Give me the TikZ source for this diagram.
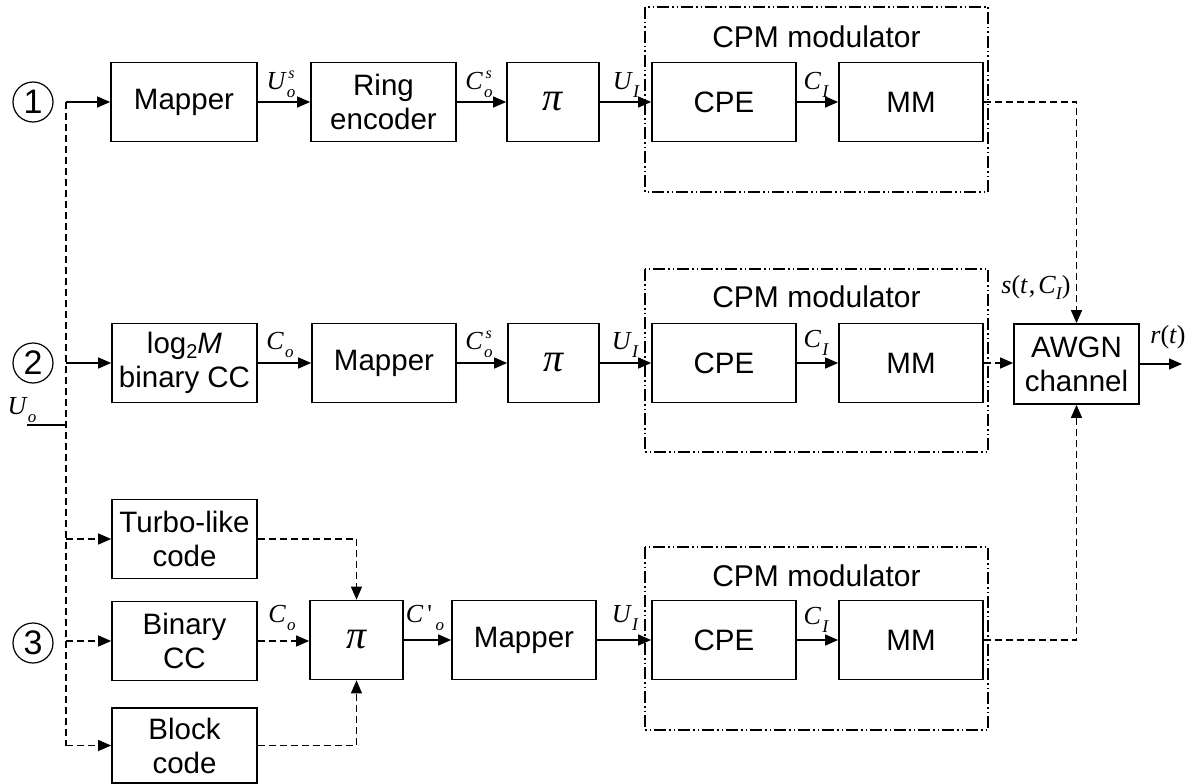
\documentclass[tikz,border=0pt]{standalone}
\usepackage{fontspec}
\setmainfont{Liberation Sans}
\newfontfamily\tnr{Liberation Serif}
\usetikzlibrary{arrows.meta}
\newcommand{\lbl}[3]{\mbox{\fontsize{26}{26}\selectfont\tnr\itshape #1\kern1.5pt\rlap{\raisebox{11pt}{\kern1.5pt\fontsize{16}{16}\selectfont #3}}\raisebox{-8pt}{\fontsize{17}{17}\selectfont #2}}}
\newcommand{\pisym}{{\fontsize{40}{40}\selectfont\tnr\itshape π}}
\tikzset{
  blk/.style={draw, line width=1.7pt, minimum height=79pt, inner sep=0pt, align=center,
    font=\fontsize{29.5}{34}\selectfont},
  cpmbox/.style={draw, line width=1.4pt, dash pattern=on 12pt off 3pt on 1.5pt off 3pt on 1.5pt off 3pt},
  arr/.style={line width=1.4pt, -{Triangle[length=13pt,width=11pt]}},
  darr/.style={arr, dash pattern=on 7pt off 4pt},
  dln/.style={line width=1.4pt, dash pattern=on 7pt off 4pt},
  num/.style={draw, circle, line width=1.2pt, minimum size=40pt, inner sep=0pt,
    font=\fontsize{34}{34}\selectfont},
  ttl/.style={font=\fontsize{30}{34}\selectfont},
}
\begin{document}
\begin{tikzpicture}[x=1pt,y=-1pt]
\useasboundingbox (0,0) rectangle (1197,784);
% CPM boxes
\draw[cpmbox] (645,7) rectangle (988,192);
\draw[cpmbox] (645,269) rectangle (988,452);
\draw[cpmbox] (645,547) rectangle (988,730);
\node[ttl] (t1) at (816.5,37) {CPM modulator};
\node[ttl] (t2) at (816.5,297) {CPM modulator};
\node[ttl] (t3) at (816.5,576) {CPM modulator};
% circled numbers
\node[num] (n1) at (33,102) {1};
\node[num] (n2) at (33,363) {2};
\node[num] (n3) at (33,643) {3};
% row 1
\node[blk, minimum width=146pt] (map1) at (184,102) {Mapper};
\node[blk, minimum width=145pt] (ring) at (383.5,102) {Ring\\encoder};
\node[blk, minimum width=92pt] (pi1) at (553,102) {\pisym};
\node[blk, minimum width=144pt] (cpe1) at (724,102) {CPE};
\node[blk, minimum width=144pt] (mm1) at (911,102) {MM};
% row 2
\node[blk, minimum width=145pt] (log) at (184.5,363) {log\raisebox{-5pt}{\fontsize{20}{20}\selectfont 2}\textit{M}\\binary CC};
\node[blk, minimum width=144pt] (map2) at (384,363) {Mapper};
\node[blk, minimum width=91pt] (pi2) at (553.5,363) {\pisym};
\node[blk, minimum width=144pt] (cpe2) at (724,363) {CPE};
\node[blk, minimum width=144pt] (mm2) at (911,363) {MM};
\node[blk, minimum width=125pt, minimum height=80pt] (awgn) at (1076.5,364) {AWGN\\channel};
% row 3
\node[blk, minimum width=145pt] (turbo) at (184.5,539) {Turbo-like\\code};
\node[blk, minimum width=145pt] (bin) at (184.5,641) {Binary\\CC};
\node[blk, minimum width=145pt, minimum height=75pt] (block) at (184.5,745.5) {Block\\code};
\node[blk, minimum width=93pt] (pi3) at (356.5,640) {\pisym};
\node[blk, minimum width=144pt] (map3) at (524,640) {Mapper};
\node[blk, minimum width=144pt] (cpe3) at (724,640) {CPE};
\node[blk, minimum width=144pt] (mm3) at (911,640) {MM};
% left tree
\coordinate (j1) at (66,102);
\coordinate (j3) at (66,746);
\coordinate (uo) at (27,425);
\draw[dln] (j1) -- (j3);
\draw[arr] (j1) -- (map1);
\draw[arr] (log.west -| j1) -- (log);
\draw[line width=1.4pt] (uo) -- (uo -| j1);
\draw[darr] (turbo.west -| j1) -- (turbo);
\draw[darr] (bin.west -| j1) -- (bin);
\draw[darr] (block.west -| j1) -- (block.west);
% row 1 connections
\draw[arr] (map1) -- (ring);
\draw[arr] (ring) -- (pi1);
\draw[arr] (pi1) -- (cpe1);
\draw[arr] (cpe1) -- (mm1);
\draw[darr] (mm1.east) -| (awgn.north);
% row 2 connections
\draw[arr] (log) -- (map2);
\draw[arr] (map2) -- (pi2);
\draw[arr] (pi2) -- (cpe2);
\draw[arr] (cpe2) -- (mm2);
\draw[darr] (mm2.east) -- (mm2.east -| awgn.west);
\coordinate (rt) at (1182,364);
\draw[arr] (awgn.east) -- (rt);
% row 3 connections
\draw[darr] (turbo.east) -| (pi3.north);
\draw[darr] (block.east) -| (pi3.south);
\draw[darr] (bin.east) -- (bin.east -| pi3.west);
\draw[arr] (pi3) -- (map3);
\draw[arr] (map3) -- (cpe3);
\draw[arr] (cpe3) -- (mm3);
\draw[darr] (mm3.east) -| (awgn.south);
% labels
\node (l1) at (281,84) {\lbl{U}{o}{s}};
\node (l2) at (479,84) {\lbl{C}{o}{s}};
\node (l3) at (626,85) {\lbl{U}{\fontsize{18}{18}\selectfont I}{}};
\node (l4) at (816,85) {\lbl{C}{\fontsize{18}{18}\selectfont I}{}};
\node (l5) at (280,345) {\lbl{C}{o}{}};
\node (l6) at (479,344) {\lbl{C}{o}{s}};
\node (l7) at (625,345) {\lbl{U}{\fontsize{18}{18}\selectfont I}{}};
\node (l8) at (816,343) {\lbl{C}{\fontsize{18}{18}\selectfont I}{}};
\node (l9) at (282,618) {\lbl{C}{o}{}};
\node (l10) at (425,618) {\lbl{C\kern4pt{\upshape'}\kern2pt}{o}{}};
\node (l11) at (625,618) {\lbl{U}{\fontsize{18}{18}\selectfont I}{}};
\node (l12) at (816,620) {\lbl{C}{\fontsize{18}{18}\selectfont I}{}};
\node (l13) at (22,410) {\lbl{U}{o}{}};
\node (l14) at (1036,287) {\mbox{\fontsize{26}{26}\selectfont\tnr\textit{s}(\textit{t}\kern1pt,\kern3pt\textit{C}\raisebox{-6pt}{\fontsize{18}{18}\selectfont\itshape I})}};
\node (l15) at (1168,337) {\mbox{\fontsize{26}{26}\selectfont\tnr\textit{r}(\textit{t})}};
\end{tikzpicture}
\end{document}
